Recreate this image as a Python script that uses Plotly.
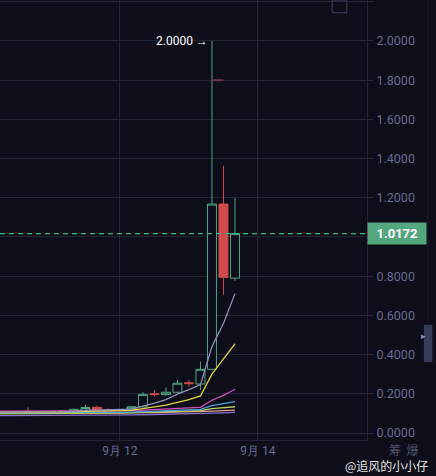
import plotly.graph_objects as go
import pandas as pd

# 4h candles, 9/10 04:00 .. 9/13 16:00
times = pd.date_range("2023-09-10 04:00", periods=22, freq="4h")

opens = [0.106, 0.108, 0.106, 0.110, 0.107, 0.108, 0.108, 0.111, 0.115, 0.131, 0.120,
         0.115, 0.124, 0.134, 0.200, 0.196, 0.208, 0.256, 0.250, 0.325, 1.168, 0.790]
highs = [0.108, 0.109, 0.108, 0.131, 0.109, 0.110, 0.113, 0.123, 0.145, 0.140, 0.125,
         0.120, 0.137, 0.208, 0.220, 0.233, 0.270, 0.270, 0.364, 2.000, 1.364, 1.200]
lows = [0.104, 0.104, 0.104, 0.104, 0.105, 0.106, 0.106, 0.108, 0.112, 0.112, 0.110,
        0.112, 0.120, 0.130, 0.186, 0.190, 0.205, 0.236, 0.220, 0.320, 0.704, 0.777]
closes = [0.107, 0.106, 0.107, 0.107, 0.108, 0.109, 0.111, 0.121, 0.130, 0.116, 0.115,
          0.117, 0.134, 0.197, 0.196, 0.208, 0.254, 0.252, 0.325, 1.168, 0.794, 1.0172]

# moving average lines
ma_grey = [0.106, 0.106, 0.106, 0.107, 0.107, 0.107, 0.108, 0.111, 0.116, 0.117, 0.117,
           0.120, 0.122, 0.136, 0.152, 0.170, 0.198, 0.221, 0.247, 0.441, 0.559, 0.711]
ma_yellow = [0.105, 0.105, 0.105, 0.106, 0.106, 0.106, 0.107, 0.108, 0.110, 0.111, 0.112,
             0.113, 0.116, 0.124, 0.132, 0.142, 0.156, 0.170, 0.189, 0.300, 0.378, 0.455]
ma_magenta = [0.111, 0.111, 0.111, 0.111, 0.111, 0.111, 0.111, 0.111, 0.112, 0.112, 0.112,
              0.113, 0.114, 0.117, 0.119, 0.122, 0.125, 0.128, 0.131, 0.167, 0.192, 0.223]
ma_blue = [0.103, 0.103, 0.103, 0.103, 0.103, 0.104, 0.104, 0.104, 0.105, 0.105, 0.105,
           0.106, 0.107, 0.109, 0.110, 0.112, 0.114, 0.117, 0.121, 0.140, 0.150, 0.160]
ma_lime = [0.098, 0.098, 0.098, 0.098, 0.099, 0.099, 0.099, 0.100, 0.100, 0.101, 0.101,
           0.102, 0.103, 0.105, 0.106, 0.108, 0.110, 0.112, 0.114, 0.124, 0.129, 0.134]
ma_salmon = [0.101, 0.101, 0.101, 0.101, 0.101, 0.101, 0.101, 0.102, 0.102, 0.102, 0.102,
             0.103, 0.103, 0.104, 0.104, 0.105, 0.106, 0.107, 0.108, 0.112, 0.114, 0.117]
ma_purple = [0.089, 0.089, 0.089, 0.089, 0.089, 0.090, 0.090, 0.090, 0.090, 0.091, 0.091,
             0.091, 0.092, 0.093, 0.094, 0.095, 0.096, 0.097, 0.098, 0.101, 0.103, 0.105]

last_price = 1.0172
peak_price = 2.0
prev_high = 1.8

y_ticks = [0.0, 0.2, 0.4, 0.6, 0.8, 1.0, 1.2, 1.4, 1.6, 1.8, 2.0, 2.2]
# 1.0000 sits under the last-price tag
y_ticktext = ["0.0000", "0.2000", "0.4000", "0.6000", "0.8000", "",
              "1.2000", "1.4000", "1.6000", "1.8000", "2.0000", "2.2000"]
x_ticks = ["2023-09-12", "2023-09-14"]
x_ticktext = ["9月 12", "9月 14"]
x_range = ["2023-09-10 06:17", "2023-09-15 13:55"]

BG = "#0d0e19"
GRID = "#222435"
GREEN = "#4fa683"
RED = "#d24b4b"
AXIS_TXT = "#666c90"

fig = go.Figure()

ma_lines = [
    (ma_purple, "#8c6fc8"),
    (ma_salmon, "#e3a08f"),
    (ma_lime, "#b9d063"),
    (ma_blue, "#4aa3df"),
    (ma_magenta, "#d24fbe"),
    (ma_yellow, "#e6d63c"),
    (ma_grey, "#8d90b5"),
]
for vals, col in ma_lines:
    fig.add_trace(go.Scatter(x=times, y=vals, mode="lines",
                             line=dict(color=col, width=1.3), hoverinfo="skip"))

# last price dashed line
fig.add_trace(go.Scatter(x=x_range, y=[last_price, last_price], mode="lines",
                         line=dict(color="#38b888", width=1.2, dash="5px,4px"),
                         hoverinfo="skip"))

fig.add_trace(go.Candlestick(
    x=times, open=opens, high=highs, low=lows, close=closes,
    increasing=dict(line=dict(color=GREEN, width=1), fillcolor=BG),
    decreasing=dict(line=dict(color=RED, width=1), fillcolor=RED),
    whiskerwidth=0,
))

# faint earlier-high marker
fig.add_trace(go.Scatter(x=[times[19], times[20]], y=[prev_high, prev_high], mode="lines",
                         line=dict(color="#6b3348", width=2), hoverinfo="skip"))

fig.add_annotation(xref="paper", x=1, yref="y", y=last_price, xanchor="left",
                   text="<b>%.4f</b>" % last_price, showarrow=False,
                   font=dict(color="white", size=13, family="Roboto"),
                   bgcolor="#54a67f", borderpad=3, width=52, align="center")

fig.add_annotation(x=times[19], y=peak_price, xanchor="right", yanchor="middle",
                   text="2.0000 →", showarrow=False, xshift=-2,
                   font=dict(color="white", size=12, family="Roboto"))

# right-side decorations
fig.add_shape(type="rect", xref="paper", yref="paper", x0=0.905, x1=0.945, y0=0.971, y1=1.0,
              line=dict(color="#3c4166", width=1))
fig.add_shape(type="rect", xref="paper", yref="paper", x0=1.155, x1=1.178, y0=0.177, y1=0.262,
              line=dict(width=0), fillcolor="#363b5a")
fig.add_annotation(xref="paper", yref="paper", x=1.1665, y=0.22, text="▸", showarrow=False,
                   font=dict(color="#8a90b8", size=9))
fig.add_shape(type="line", xref="paper", yref="paper", x0=1.166, x1=1.166, y0=0.265, y1=1.0,
              line=dict(color="#1c1e2c", width=1))

fig.add_annotation(xref="paper", yref="paper", x=1.10, y=-0.022, xanchor="center",
                   yanchor="middle", text="筹  爆", showarrow=False,
                   font=dict(color="#4d5266", size=12, family="Noto Sans CJK SC"))
fig.add_annotation(xref="paper", yref="paper", x=1.172, y=-0.059, xanchor="right",
                   yanchor="middle", text="@追风的小小仔", showarrow=False,
                   font=dict(color="#e6e6e6", size=12, family="Noto Sans CJK SC"))

fig.update_layout(
    width=436, height=476,
    margin=dict(l=0, r=69, t=0, b=36, autoexpand=False),
    paper_bgcolor=BG, plot_bgcolor=BG,
    showlegend=False,
    boxgap=0.22, boxgroupgap=0,
    font=dict(family="Roboto", color=AXIS_TXT, size=12),
)
fig.update_xaxes(
    type="date", automargin=False,
    range=x_range,
    tickvals=x_ticks, ticktext=x_ticktext,
    showgrid=True, gridcolor=GRID, gridwidth=1,
    showline=True, linecolor=GRID, linewidth=1,
    zeroline=False, rangeslider_visible=False,
    tickfont=dict(color=AXIS_TXT, size=12), ticks="",
)
fig.update_yaxes(
    side="right", automargin=False, range=[-0.0357, 2.209],
    tickvals=y_ticks, ticktext=y_ticktext,
    showgrid=True, gridcolor=GRID, gridwidth=1,
    showline=True, linecolor=GRID, linewidth=1,
    zeroline=False,
    ticks="outside", ticklen=6, tickcolor=GRID,
    tickfont=dict(color=AXIS_TXT, size=12.5),
)

# page body has a default 8px margin; drop it so the chart fills the window
fig.write_html("out.html", config={"displayModeBar": False},
               post_script="document.body.style.margin='0';")
